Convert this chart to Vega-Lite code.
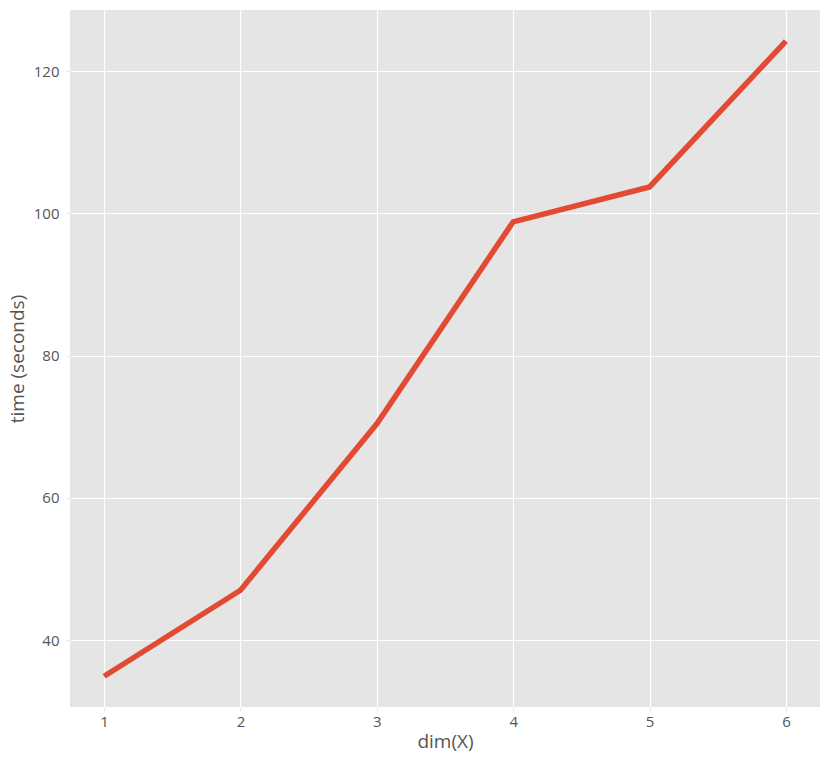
{
  "$schema": "https://vega.github.io/schema/vega-lite/v6.json",
  "width": 750,
  "height": 697,
  "autosize": {"type": "none"},
  "padding": {"left": 70, "top": 10, "right": 6, "bottom": 55},
  "background": "white",
  "config": {
    "view": {"fill": "#E5E5E5", "stroke": null},
    "font": "Open Sans"
  },
  "data": {
    "values": [
      {"dim": 1, "time": 34.9},
      {"dim": 2, "time": 47.0},
      {"dim": 3, "time": 70.4},
      {"dim": 4, "time": 98.8},
      {"dim": 5, "time": 103.7},
      {"dim": 6, "time": 124.2}
    ]
  },
  "mark": {"type": "line", "color": "#E24A33", "strokeWidth": 5.5, "strokeCap": "butt"},
  "encoding": {
    "x": {
      "field": "dim", "type": "quantitative",
      "scale": {"domain": [0.75, 6.25], "nice": false, "zero": false},
      "axis": {"title": "dim(X)", "values": [1, 2, 3, 4, 5, 6], "format": "d",
        "grid": true, "gridColor": "white", "gridWidth": 1.2, "domain": false,
        "ticks": true, "tickColor": "#E5E5E5", "tickSize": 4, "labelPadding": 3,
        "labelColor": "#555555", "labelFontSize": 15, "labelFont": "Open Sans",
        "titleColor": "#555555", "titleFontSize": 19, "titleFont": "Open Sans", "titleFontWeight": "normal", "titlePadding": 3}
    },
    "y": {
      "field": "time", "type": "quantitative",
      "scale": {"domain": [30.58, 128.58], "nice": false, "zero": false},
      "axis": {"title": "time (seconds)", "values": [40, 60, 80, 100, 120],
        "grid": true, "gridColor": "white", "gridWidth": 1.2, "domain": false,
        "ticks": true, "tickColor": "#E5E5E5", "tickSize": 4, "labelPadding": 7,
        "labelColor": "#555555", "labelFontSize": 15, "labelFont": "Open Sans",
        "titleColor": "#555555", "titleFontSize": 19, "titleFont": "Open Sans", "titleFontWeight": "normal", "titlePadding": 6}
    }
  }
}
